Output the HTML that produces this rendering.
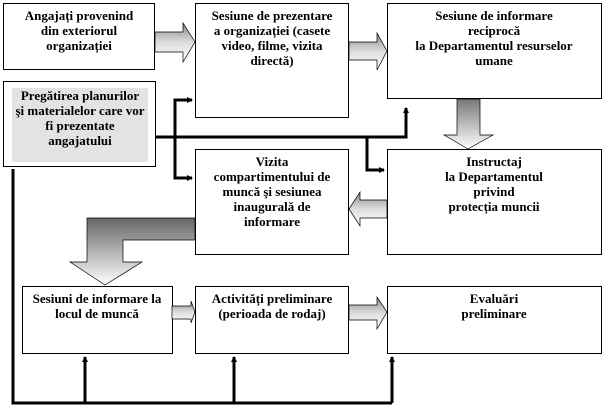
<!DOCTYPE html>
<html><head><meta charset="utf-8"><style>
html,body{margin:0;padding:0;background:#fff;}
svg{display:block;}
text{font-family:"Liberation Serif",serif;font-weight:bold;font-size:13px;fill:#000;text-anchor:middle;}
</style></head><body>
<svg width="605" height="407" viewBox="0 0 605 407" xmlns="http://www.w3.org/2000/svg">
<defs>
<linearGradient id="gv" x1="0" y1="0" x2="0" y2="1"><stop offset="0" stop-color="#777"/><stop offset="1" stop-color="#fff"/></linearGradient>
<linearGradient id="gh" x1="0" y1="0" x2="0" y2="1"><stop offset="0" stop-color="#888"/><stop offset="0.5" stop-color="#ddd"/><stop offset="1" stop-color="#fff"/></linearGradient>
<linearGradient id="gv2" x1="0" y1="0" x2="0" y2="1"><stop offset="0" stop-color="#666"/><stop offset="1" stop-color="#fff"/></linearGradient>
<marker id="ah" markerWidth="6" markerHeight="6" refX="5" refY="3" orient="auto" markerUnits="userSpaceOnUse"><path d="M0,0 L6,3 L0,6 z" fill="#000"/></marker>
</defs>
<g fill="#fff" stroke="#000" stroke-width="1">
<rect x="3.5" y="3.5" width="151" height="66"/>
<rect x="195.5" y="3.5" width="153" height="114"/>
<rect x="387.5" y="3.5" width="214" height="95"/>
<rect x="3.5" y="81.5" width="152" height="85"/>
<rect x="195.5" y="149.5" width="153" height="105"/>
<rect x="387.5" y="149.5" width="214" height="105"/>
<rect x="22.5" y="286.5" width="150" height="67"/>
<rect x="195.5" y="286.5" width="153" height="67"/>
<rect x="387.5" y="286.5" width="214" height="67"/>
</g>
<rect x="12" y="88" width="136" height="74" fill="#e3e3e3"/>
<g stroke="#000" stroke-width="0.7">
<path d="M155,32 H183 V23 L195,42 L183,62 V52 H155 Z" fill="url(#gh)"/>
<path d="M349,42 H377 V33 L387,51 L377,70 V60 H349 Z" fill="url(#gh)"/>
<path d="M457,99 V135 H444 L468,149 L493,135 H480 V99 Z" fill="url(#gv)"/>
<path d="M387,200 H360 V192 L349,209 L360,226 V218 H387 Z" fill="url(#gh)"/>
<path d="M195,218 H87 V262 H70 L105,285 L142,262 H123 V240 H195 Z" fill="url(#gv2)"/>
<path d="M172,306 H191 V301 L195,312 L191,323 V319 H172 Z" fill="url(#gh)"/>
<path d="M349,305 H377 V297 L387,312 L377,329 V320 H349 Z" fill="url(#gh)"/>
</g>
<g stroke="#000" stroke-width="3" fill="none">
<path d="M155,137 H406 V108" marker-end="url(#ah)"/>
<path d="M367,137 V170 H384" marker-end="url(#ah)"/>
<path d="M175,137 V100 H192" marker-end="url(#ah)"/>
<path d="M175,137 V178 H192" marker-end="url(#ah)"/>
<path d="M13,169 V403 H392"/>
<path d="M85,403 V357" marker-end="url(#ah)"/>
<path d="M234,403 V357" marker-end="url(#ah)"/>
<path d="M392,403 V357" marker-end="url(#ah)"/>
</g>
<text x="79" y="20">Angajați provenind</text>
<text x="79" y="35">din exteriorul</text>
<text x="79" y="50">organizației</text>
<text x="272" y="20">Sesiune de prezentare</text>
<text x="272" y="35">a organizației (casete</text>
<text x="272" y="50">video, filme, vizita</text>
<text x="272" y="65">directă)</text>
<text x="494" y="20">Sesiune de informare</text>
<text x="494" y="35">reciprocă</text>
<text x="494" y="50">la Departamentul resurselor</text>
<text x="494" y="65">umane</text>
<text x="80" y="100">Pregătirea planurilor</text>
<text x="80" y="115">şi materialelor care vor</text>
<text x="80" y="130">fi prezentate</text>
<text x="80" y="145">angajatului</text>
<text x="272" y="166">Vizita</text>
<text x="272" y="181">compartimentului de</text>
<text x="272" y="196">muncă şi sesiunea</text>
<text x="272" y="211">inaugurală de</text>
<text x="272" y="226">informare</text>
<text x="494" y="166">Instructaj</text>
<text x="494" y="181">la Departamentul</text>
<text x="494" y="196">privind</text>
<text x="494" y="211">protecția muncii</text>
<text x="97" y="303">Sesiuni de informare la</text>
<text x="97" y="318">locul de muncă</text>
<text x="272" y="303">Activități preliminare</text>
<text x="272" y="318">(perioada de rodaj)</text>
<text x="494" y="303">Evaluări</text>
<text x="494" y="318">preliminare</text>
</svg>
</body></html>
